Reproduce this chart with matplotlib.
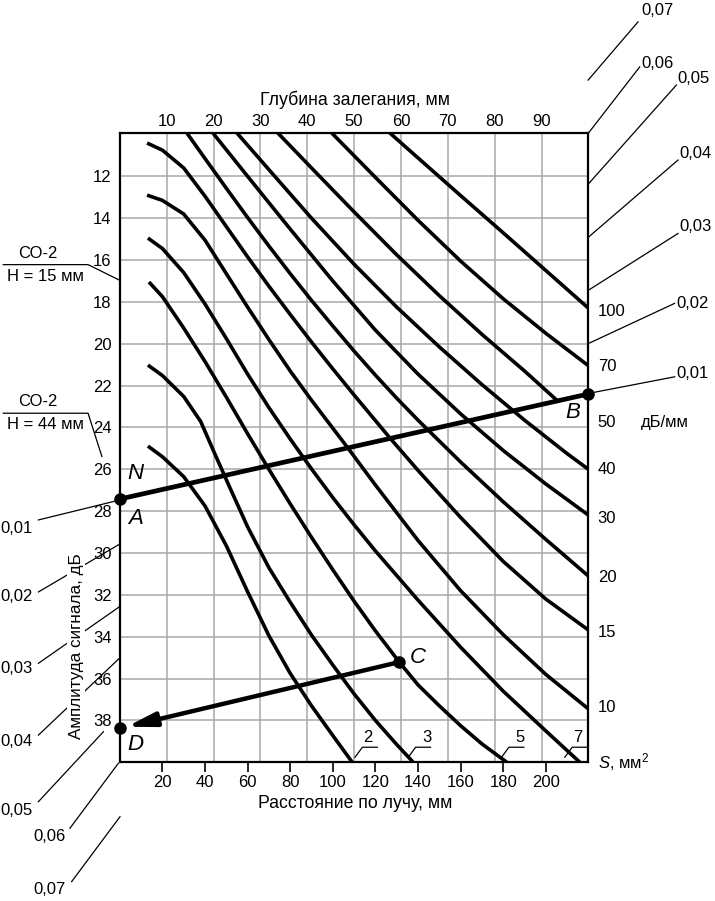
import matplotlib
matplotlib.use("Agg")
import matplotlib.pyplot as plt
from matplotlib.patches import ArrowStyle

plt.rcParams['font.family'] = ['Liberation Sans', 'DejaVu Sans']
plt.rcParams['mathtext.fontset'] = 'custom'
plt.rcParams['mathtext.rm'] = 'Liberation Sans'
plt.rcParams['mathtext.it'] = 'Liberation Sans:italic'

# ---------------- data (distance along beam, mm ; signal amplitude, dB) ----------------
s2_dist = [13.2, 20, 30, 40, 50, 60, 70, 80, 90, 100, 109]
s2_db   = [24.89, 25.40, 26.35, 27.75, 29.65, 31.85, 33.95, 35.75, 37.30, 38.72, 39.98]

s3_dist = [13.2, 20, 30, 38, 45, 52, 60, 70, 80, 90, 100, 110, 120, 130, 137.6]
s3_db   = [21.02, 21.52, 22.52, 23.72, 25.35, 26.95, 28.75, 30.70, 32.35, 33.92, 35.35, 36.73, 38.00, 39.15, 39.98]

s5_dist = [13.7, 20, 30, 40, 50, 60, 70, 80, 90, 100, 110, 120, 131.2, 140, 150, 160, 170, 181.7]
s5_db   = [17.05, 17.75, 19.25, 20.85, 22.55, 24.30, 26.00, 27.65, 29.25, 30.80, 32.30, 33.72, 35.21, 36.30, 37.30, 38.25, 39.12, 40.0]

s7_dist = [13.2, 20, 30, 40, 50, 60, 70, 80, 90, 100, 110, 120, 140, 160, 180, 200, 216]
s7_db   = [14.95, 15.45, 16.60, 18.10, 19.75, 21.45, 23.05, 24.55, 25.98, 27.35, 28.65, 29.90, 32.25, 34.50, 36.60, 38.50, 40.0]

s10_dist = [12.8, 20, 30, 40, 50, 60, 70, 80, 90, 107, 120, 140, 160, 180, 200, 220]
s10_db   = [12.90, 13.15, 13.80, 15.05, 16.65, 18.25, 19.80, 21.30, 22.70, 24.97, 26.75, 29.40, 31.80, 33.90, 35.80, 37.45]

s15_dist = [12.8, 20, 30, 40, 50, 60, 70, 80, 90, 100, 110, 126.8, 140, 160, 180, 200, 220]
s15_db   = [10.41, 10.75, 11.60, 12.95, 14.40, 15.85, 17.25, 18.60, 19.92, 21.20, 22.45, 24.50, 26.05, 28.30, 30.40, 32.20, 33.68]

s20_dist = [31.5, 40, 50, 60, 70, 80, 90, 100, 110, 120, 130, 140, 160, 180, 200, 220]
s20_db   = [9.93, 11.15, 12.57, 13.97, 15.33, 16.65, 17.93, 19.15, 20.35, 21.50, 22.60, 23.65, 25.65, 27.55, 29.35, 31.10]

s30_dist = [43.7, 60, 80, 100, 120, 140, 160, 180, 200, 220]
s30_db   = [9.93, 12.00, 14.52, 17.00, 19.35, 21.45, 23.35, 25.10, 26.70, 28.19]

s40_dist = [55.0, 70, 90, 110, 130, 150, 170, 190, 210, 220]
s40_db   = [9.93, 11.68, 14.00, 16.20, 18.25, 20.15, 21.95, 23.65, 25.25, 26.00]

s50_dist = [74.2, 90, 110, 130, 150, 170, 190, 205.5]
s50_db   = [9.93, 11.60, 13.70, 15.75, 17.70, 19.55, 21.30, 22.73]

s70_dist = [99.5, 120, 140, 160, 180, 200, 220]
s70_db   = [9.93, 12.05, 14.10, 16.05, 17.85, 19.50, 21.05]

s100_dist = [126.8, 140, 160, 180, 200, 220]
s100_db   = [9.93, 11.12, 12.92, 14.70, 16.50, 18.30]

curves = [(s2_dist, s2_db), (s3_dist, s3_db), (s5_dist, s5_db), (s7_dist, s7_db),
          (s10_dist, s10_db), (s15_dist, s15_db), (s20_dist, s20_db), (s30_dist, s30_db),
          (s40_dist, s40_db), (s50_dist, s50_db), (s70_dist, s70_db), (s100_dist, s100_db)]

# axes scales / ticks
db_ticks = [12, 14, 16, 18, 20, 22, 24, 26, 28, 30, 32, 34, 36, 38]
dist_ticks = [20, 40, 60, 80, 100, 120, 140, 160, 180, 200]
depth_ticks = [10, 20, 30, 40, 50, 60, 70, 80, 90]
depth_max = 100
dist_max = 220
db_top, db_bottom = 9.93, 40

# S-scale labels on the right (value, amplitude where written)
s_labels = ['100', '70', '50', '40', '30', '20', '15', '10']
s_label_db = [18.45, 21.07, 23.77, 26.03, 28.33, 31.15, 33.82, 37.40]

# bottom-end labels of small reflectors
end_labels = ['2', '3', '5', '7']
end_label_dist = [116.6, 144.0, 187.8, 214.9]
end_leader_start = [110.4, 135.4, 179.2, 208.9]

# example construction points
A = (0.0, 27.42)
B = (220.0, 22.40)
C = (131.2, 35.21)
D = (0.0, 38.38)

# attenuation (dB/mm) scales
att_right = ['0,07', '0,06', '0,05', '0,04', '0,03', '0,02', '0,01']
att_right_lines = [((219.9, 7.40), (243.3, 4.62)), ((219.9, 9.95), (244.1, 6.77)),
                   ((220.2, 12.34), (261.3, 7.64)), ((220.2, 14.89), (262.1, 11.22)),
                   ((220.2, 17.43), (262.1, 14.73)), ((220.2, 19.98), (260.5, 18.07)),
                   ((220.2, 22.37), (260.5, 21.58))]
att_right_text = [(244.9, 4.06), (244.9, 6.60), (262.0, 7.32), (262.8, 10.90),
                  (262.8, 14.41), (261.3, 18.07), (261.3, 21.41)]

att_left = ['0,01', '0,02', '0,03', '0,04', '0,05', '0,06', '0,07']
att_left_lines = [((-38.2, 28.42), (-0.2, 27.47)), ((-38.2, 31.86), (0.0, 29.57)),
                  ((-38.2, 35.27), (-0.2, 32.57)), ((-38.2, 38.70), (-0.2, 35.03)),
                  ((-38.2, 41.88), (-7.7, 38.54)), ((-23.4, 43.15), (-0.7, 40.05)),
                  ((-22.6, 45.70), (0.1, 42.60))]
att_left_text = [(-56.2, 28.81), (-56.2, 32.09), (-56.2, 35.51), (-56.2, 39.02),
                 (-56.2, 42.28), (-40.6, 43.55), (-40.6, 46.10)]

# ---------------- figure ----------------
W, H = 715, 901
fig = plt.figure(figsize=(W / 100, H / 100), dpi=100)
L, R, T, Bt = 119.8, 588.4, 133.0, 762.3
ax = fig.add_axes([L / W, 1 - Bt / H, (R - L) / W, (Bt - T) / H])
ax.set_xlim(0, dist_max)
ax.set_ylim(db_bottom, db_top)

grid_c = '#a8a8a8'
for dv in depth_ticks:
    ax.axvline(dv * dist_max / depth_max, color=grid_c, lw=1.1, zorder=0.5)
for yv in db_ticks:
    ax.axhline(yv, color=grid_c, lw=1.1, zorder=0.5)

for xs, ys in curves:
    ax.plot(xs, ys, color='black', lw=2.6, solid_capstyle='butt',
            solid_joinstyle='round', zorder=3)

for sp in ax.spines.values():
    sp.set_linewidth(1.6)
    sp.set_zorder(4)

fs = 12
ax.set_yticks(db_ticks)
ax.set_yticklabels([str(v) for v in db_ticks], fontsize=fs)
ax.tick_params(axis='y', length=0, pad=6)
for lab in ax.get_yticklabels():
    lab.set_bbox(dict(facecolor='white', edgecolor='none', pad=0.5))
ax.set_xticks(dist_ticks)
ax.set_xticklabels([str(v) for v in dist_ticks], fontsize=fs)
ax.tick_params(axis='x', direction='out', length=7, width=1.2, pad=2)

top = ax.twiny()
top.set_xlim(0, depth_max)
top.set_xticks(depth_ticks)
top.set_xticklabels([str(v) for v in depth_ticks], fontsize=fs)
top.tick_params(axis='x', length=0, pad=3)
for sp in top.spines.values():
    sp.set_visible(False)

fs_t = 12.7
ax.text(0.502, 1.0524, 'Глубина залегания, мм', transform=ax.transAxes,
        ha='center', va='center', fontsize=fs_t)
ax.text(0.502, -0.0647, 'Расстояние по лучу, мм', transform=ax.transAxes,
        ha='center', va='center', fontsize=fs_t)
ax.text(-0.093, 0.184, 'Амплитуда сигнала, дБ', transform=ax.transAxes,
        ha='center', va='center', rotation=90, fontsize=12.3, zorder=6,
        bbox=dict(facecolor='white', edgecolor='none', pad=1))

# right S scale
for lab, yv in zip(s_labels, s_label_db):
    ax.text(224.4, yv, lab, ha='left', va='center', fontsize=fs, clip_on=False)
ax.text(224.4, 40.0, r'$S$, мм$^2$', ha='left', va='center', fontsize=fs, clip_on=False)
ax.text(255.8, 23.77, 'дБ/мм', ha='center', va='center', fontsize=fs, clip_on=False)

# bottom end labels
for lab, xt, x0 in zip(end_labels, end_label_dist, end_leader_start):
    ax.text(xt, 38.81, lab, ha='center', va='center', fontsize=fs, zorder=5)
    ax.plot([x0, x0 + 3.5, x0 + 10.5], [39.76, 39.28, 39.28], color='black', lw=0.9, zorder=5)

# construction lines
ax.plot([A[0], B[0]], [A[1], B[1]], color='black', lw=3.4, zorder=5, clip_on=False,
        solid_capstyle='butt')
ax.annotate('', xy=D, xytext=C,
            arrowprops=dict(arrowstyle=ArrowStyle('-|>', head_length=1.7, head_width=0.42),
                            mutation_scale=10, lw=3.2, color='black',
                            shrinkA=0, shrinkB=5), zorder=5, annotation_clip=False)
for p in (A, B, C, D):
    ax.plot([p[0]], [p[1]], 'o', color='black', ms=8, zorder=6, clip_on=False)

lab_kw = dict(textcoords='offset points', fontsize=16, style='italic',
              ha='center', va='center', zorder=6, annotation_clip=False)
ax.annotate('N', xy=A, xytext=(11.2, 18.7), **lab_kw)
ax.annotate('A', xy=A, xytext=(11.2, -13.7), **lab_kw)
ax.annotate('B', xy=B, xytext=(-11.0, -13.0), **lab_kw)
ax.annotate('C', xy=C, xytext=(13.5, 3.6), **lab_kw)
ax.annotate('D', xy=D, xytext=(11.2, -11.5), **lab_kw)

# attenuation leaders
for lab, (p0, p1), tp in zip(att_right, att_right_lines, att_right_text):
    ax.plot([p0[0], p1[0]], [p0[1], p1[1]], color='black', lw=0.9, clip_on=False, zorder=2)
    ax.text(tp[0], tp[1], lab, ha='left', va='center', fontsize=fs, clip_on=False)
for lab, (p0, p1), tp in zip(att_left, att_left_lines, att_left_text):
    ax.plot([p0[0], p1[0]], [p0[1], p1[1]], color='black', lw=0.9, clip_on=False, zorder=2)
    ax.text(tp[0], tp[1], lab, ha='left', va='center', fontsize=fs, clip_on=False)

# CO-2 reference marks
for txt1, txt2, yline, yend, xend in [('СО-2', 'Н = 15 мм', 16.22, 16.96, -0.2),
                                       ('СО-2', 'Н = 44 мм', 23.32, 25.39, -8.4)]:
    ax.plot([-54.7, -14.9, xend], [yline, yline, yend], color='black', lw=0.9,
            clip_on=False, zorder=2)
    ax.text(-38.6, yline - 0.55, txt1, ha='center', va='center', fontsize=fs, clip_on=False)
    ax.text(-35.0, yline + 0.55, txt2, ha='center', va='center', fontsize=fs, clip_on=False)

fig.savefig('out.png', dpi=100)
